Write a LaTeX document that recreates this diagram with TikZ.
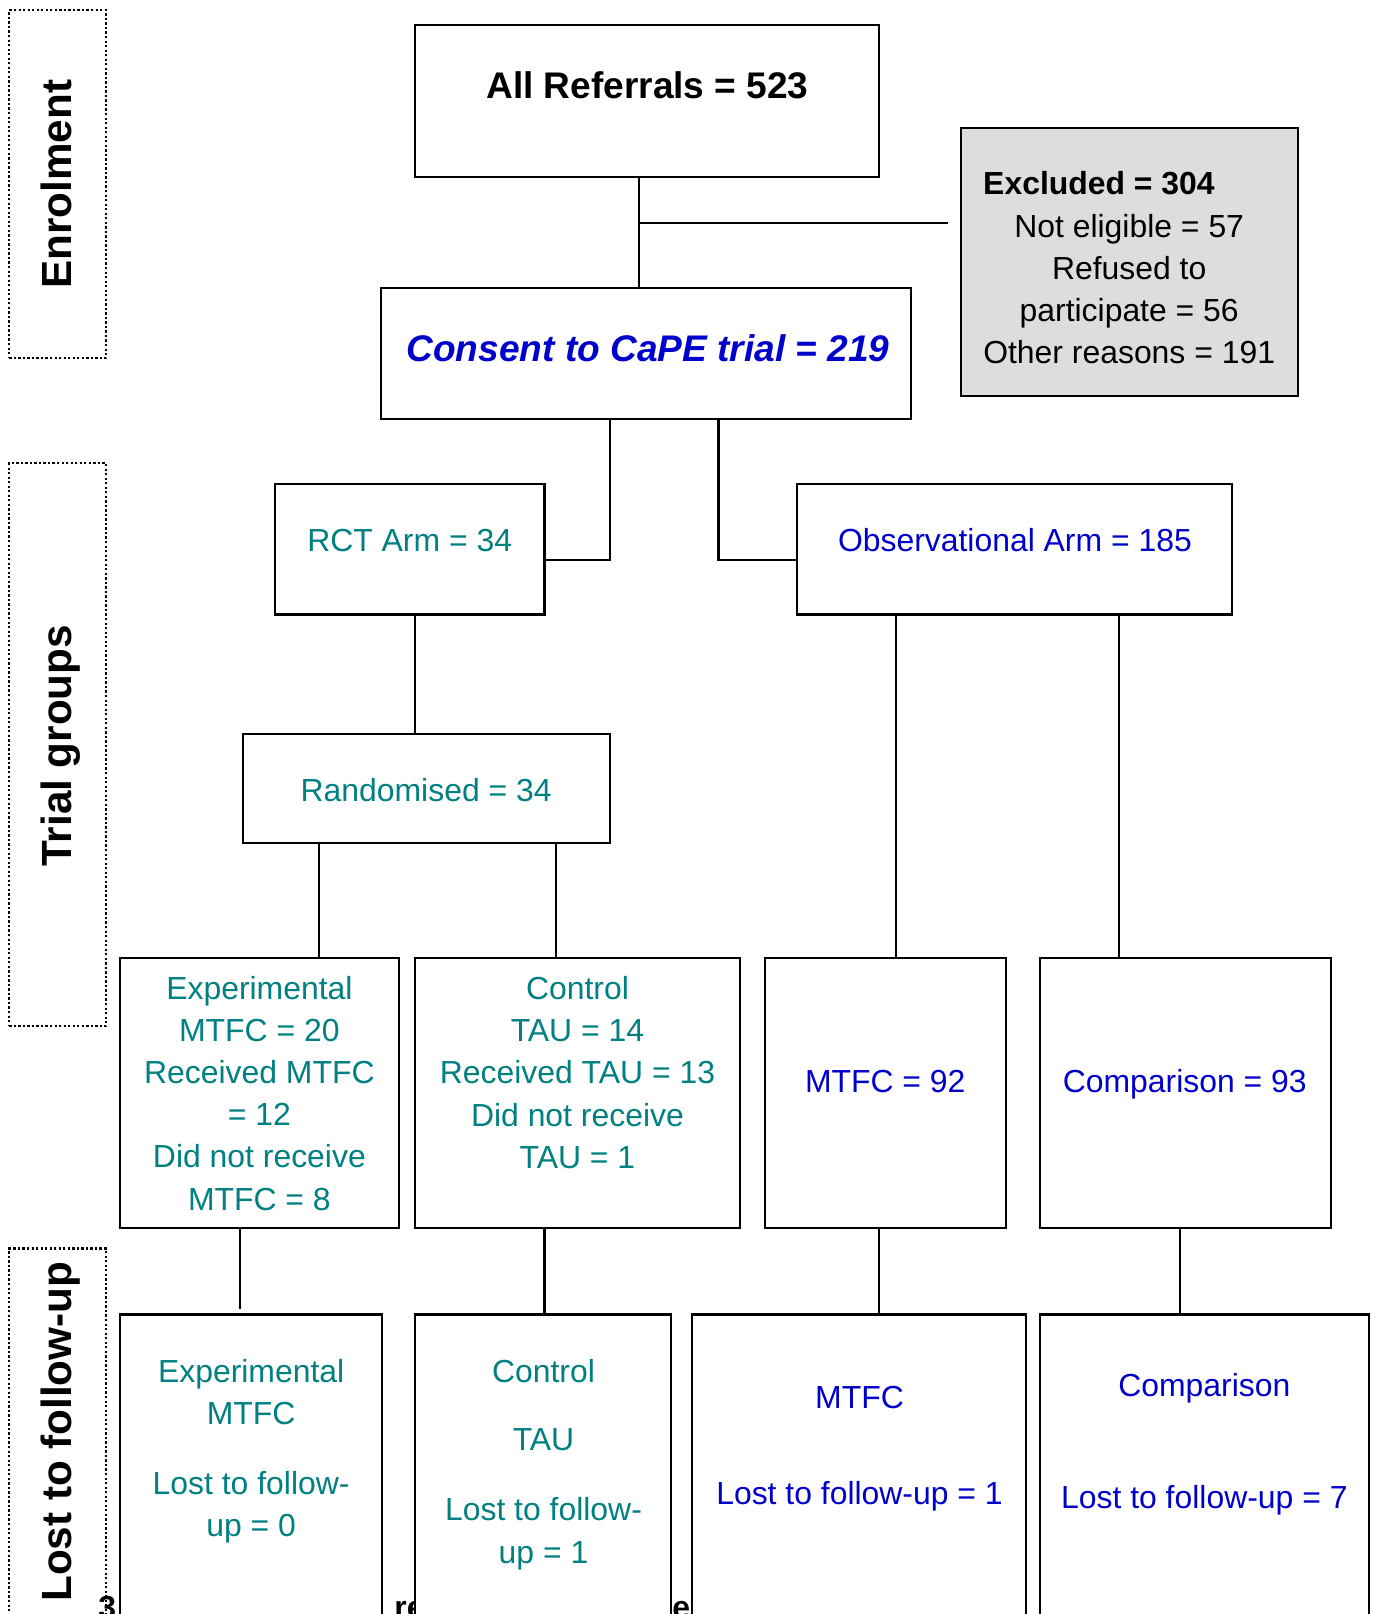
\documentclass[tikz,border=0pt]{standalone}
\usepackage{fontspec}
\setmainfont{Liberation Sans}
\definecolor{tealc}{RGB}{0,128,128}
\definecolor{bluec}{RGB}{0,0,204}
\definecolor{exgray}{RGB}{221,221,221}
\begin{document}
\begin{tikzpicture}[x=1pt,y=-1pt,
  box/.style={draw, line width=2pt, inner sep=0pt, outer sep=0pt, fill=white},
  band/.style={draw, line width=2.2pt, dash pattern=on 2.2pt off 2.2pt, inner sep=0pt, outer sep=0pt},
  conn/.style={line width=2pt},
  reg/.style={font=\fontsize{31}{41}\selectfont, align=center, inner sep=0pt},
  big/.style={font=\fontsize{36}{43}\selectfont\bfseries, inner sep=0pt},
  side/.style={font=\fontsize{41}{49}\selectfont\bfseries, inner sep=0pt, rotate=90, anchor=base},
  capt/.style={font=\fontsize{31}{41}\selectfont\bfseries, inner sep=0pt}
]
\useasboundingbox (0,0) rectangle (1333,1568);
\clip (0,0) rectangle (1333,1568);

% caption fragments hidden behind the boxes
\node[capt, anchor=base east] (f1) at (113,1572) {3};
\node[capt, anchor=base west] (f2) at (383,1572) {re};
\node[capt, anchor=base west] (f3) at (653,1572) {e};

% side bands
\node[band, minimum width=94, minimum height=338] (en) at (56,179) {};
\node[band, minimum width=94, minimum height=547] (tg) at (56,723.5) {};
\node[band, minimum width=94, minimum height=487] (lf) at (56,1456.5) {};
\node[side] (enl) at (69,179) {Enrolment};
\node[side] (tgl) at (69,724.5) {Trial groups};
\node[side] (lfl) at (69,1391) {Lost to follow-up};

% boxes
\node[box, minimum width=451, minimum height=148] (ar) at (628.5,98) {};
\node[box, fill=exgray, minimum width=327, minimum height=261] (ex) at (1097.5,254.5) {};
\node[box, minimum width=515, minimum height=127] (cs) at (627.5,343.5) {};
\node[box, minimum width=262, minimum height=127] (rct) at (398,533.5) {};
\node[box, minimum width=423, minimum height=127] (obs) at (985.5,533.5) {};
\node[box, minimum width=357, minimum height=106] (rd) at (414.5,766) {};
\node[box, minimum width=271, minimum height=262] (e1) at (252.5,1062) {};
\node[box, minimum width=316, minimum height=262] (c1) at (561,1062) {};
\node[box, minimum width=234, minimum height=262] (m1) at (860,1062) {};
\node[box, minimum width=283, minimum height=262] (p1) at (1151.5,1062) {};
\node[box, minimum width=254, minimum height=423] (e2) at (244,1488.5) {};
\node[box, minimum width=249, minimum height=423] (c2) at (527.5,1488.5) {};
\node[box, minimum width=325, minimum height=423] (m2) at (834.5,1488.5) {};
\node[box, minimum width=320, minimum height=423] (p2) at (1170,1488.5) {};

% texts
\node[big] (art) at (629,83) {All Referrals = 523};
\node[reg, font=\fontsize{31}{41}\selectfont\bfseries, anchor=west] (ext) at (955,178) {Excluded = 304};
\node[reg] (exb) at (1097,281) {Not eligible = 57\\Refused to\\participate = 56\\Other reasons = 191};
\node[big, text=bluec, font=\fontsize{36}{43}\selectfont\bfseries\itshape] (cst) at (629.5,338) {Consent to CaPE trial = 219};
\node[reg, text=tealc] (rctt) at (398,525) {RCT Arm = 34};
\node[reg, text=bluec] (obst) at (986,525) {Observational Arm = 185};
\node[reg, text=tealc] (rdt) at (414,768) {Randomised = 34};
\node[reg, text=tealc] (e1t) at (252,1062) {Experimental\\MTFC = 20\\Received MTFC\\= 12\\Did not receive\\MTFC = 8};
\node[reg, text=tealc] (c1t) at (561,1042) {Control\\TAU = 14\\Received TAU = 13\\Did not receive\\TAU = 1};
\node[reg, text=bluec] (m1t) at (860,1051) {MTFC = 92};
\node[reg, text=bluec] (p1t) at (1151,1053) {Comparison = 93};
\node[reg, text=tealc] (e2t) at (244,1410) {Experimental\\MTFC\\[27pt]Lost to follow-\\up = 0};
\node[reg, text=tealc] (c2t) at (528,1423) {Control\\[25pt]TAU\\[27pt]Lost to follow-\\up = 1};
\node[reg, text=bluec] (m2t) at (835,1407.5) {MTFC\\[52pt]Lost to follow-up = 1};
\node[reg, text=bluec] (p2t) at (1170,1403) {Comparison\\[68pt]Lost to follow-up = 7};

% connector coordinates
\coordinate (j1) at (621,217);
\coordinate (jx) at (921,217);
\coordinate (k1) at (593,544);
\coordinate (k2) at (698,544);
\coordinate (v1) at (403,0);
\coordinate (v2) at (310,0);
\coordinate (v3) at (540,0);
\coordinate (v4) at (870,0);
\coordinate (v5) at (1087,0);
\coordinate (v6) at (233,0);
\coordinate (v7) at (529,0);
\coordinate (v8) at (854,0);
\coordinate (v9) at (1146,0);
\coordinate (g6) at (233,1272);

% connectors
\draw[conn] (ar.south -| j1) -- (cs.north -| j1);
\draw[conn] (j1) -- (jx);
\draw[conn] (cs.south -| k1) -- (k1) -- (rct.east |- k1);
\draw[conn] (cs.south -| k2) -- (k2) -- (obs.west |- k2);
\draw[conn] (rct.south -| v1) -- (rd.north -| v1);
\draw[conn] (rd.south -| v2) -- (e1.north -| v2);
\draw[conn] (rd.south -| v3) -- (c1.north -| v3);
\draw[conn] (obs.south -| v4) -- (m1.north -| v4);
\draw[conn] (obs.south -| v5) -- (p1.north -| v5);
\draw[conn] (e1.south -| v6) -- (g6);
\draw[conn] (c1.south -| v7) -- (c2.north -| v7);
\draw[conn] (m1.south -| v8) -- (m2.north -| v8);
\draw[conn] (p1.south -| v9) -- (p2.north -| v9);
\end{tikzpicture}
\end{document}
